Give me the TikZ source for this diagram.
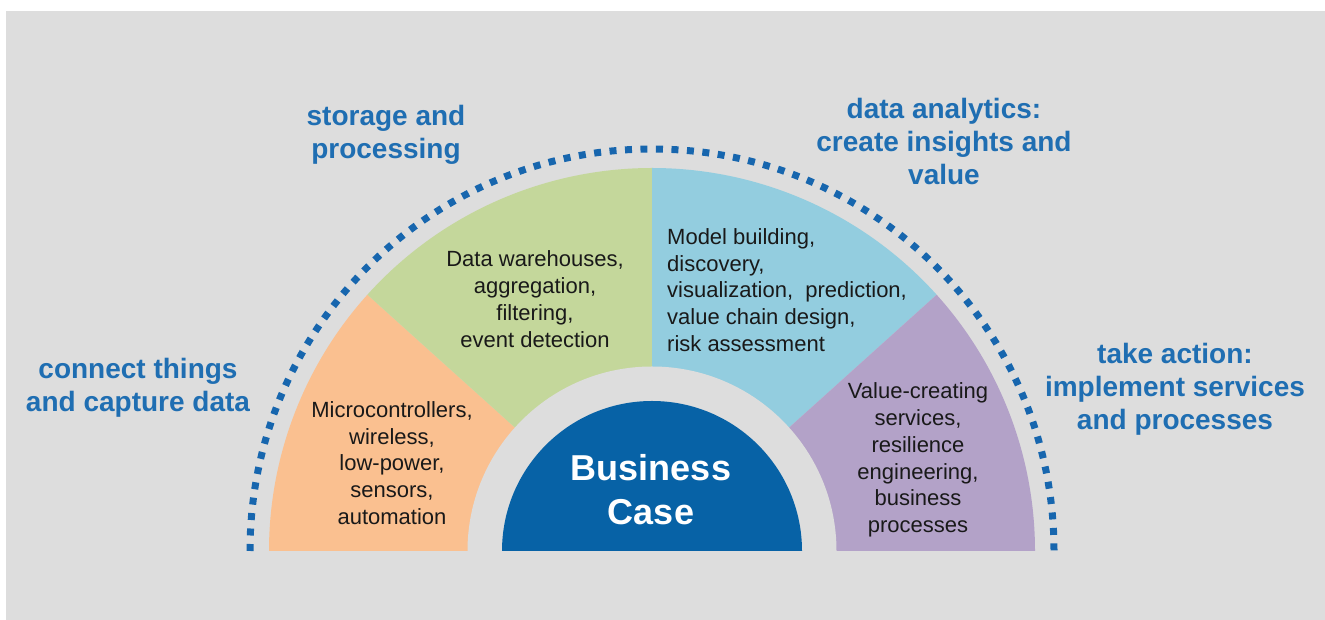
\documentclass[tikz,border=0pt]{standalone}
\usepackage{fontspec}
\setmainfont{Liberation Sans}
\definecolor{bggray}{HTML}{DDDDDD}
\definecolor{segorange}{HTML}{FAC090}
\definecolor{seggreen}{HTML}{C4D79B}
\definecolor{segblue}{HTML}{93CDDF}
\definecolor{segpurple}{HTML}{B3A2C8}
\definecolor{coreblue}{HTML}{0762A6}
\definecolor{labelblue}{HTML}{1F6EB2}
\definecolor{dotblue}{HTML}{1766AE}
\begin{document}
\begin{tikzpicture}[x=1pt,y=1pt,
  phase/.style={text=labelblue, font=\fontsize{28}{33}\selectfont\bfseries, align=center, inner sep=0pt},
  segtext/.style={text=black!90, font=\fontsize{22}{26.8}\selectfont, align=center, inner sep=0pt},
  coretext/.style={text=white, font=\fontsize{36}{44}\selectfont\bfseries, align=center, inner sep=0pt},
  dotring/.style={draw=dotblue, line width=7pt, dash pattern=on 7pt off 8.5pt}]
\useasboundingbox (0,0) rectangle (1325,620);
\fill[white] (0,0) rectangle (1325,620);
\fill[bggray] (6,0) rectangle (1325,609);

\coordinate (C) at (652,69);

% outer segments of the half disc
\fill[segorange] (C) -- ++(180:383) arc (180:138:383) -- cycle;
\fill[seggreen]  (C) -- ++(138:383) arc (138:90:383) -- cycle;
\fill[segblue]   (C) -- ++(90:383) arc (90:42:383) -- cycle;
\fill[segpurple] (C) -- ++(42:383) arc (42:0:383) -- cycle;

% gray ring and the central half disc
\fill[bggray] (C) ++(180:184.5) arc (180:0:184.5) -- cycle;
\fill[coreblue] (C) ++(180:150) arc (180:0:150) -- cycle;

% dotted outer arc
\draw[dotring] (C) ++(180:402) arc (180:0:402);

% phase labels
\node[phase] (connect) at (138,232) {connect things\\and capture data};
\node[phase] (storage) at (386,485) {storage and\\processing};
\node[phase] (analytics) at (944,478) {data analytics:\\create insights and\\value};
\node[phase] (action) at (1175,231) {take action:\\implement services\\and processes};

% segment contents
\node[segtext] (things) at (392,157) {Microcontrollers,\\wireless,\\low-power,\\sensors,\\automation};
\node[segtext] (storagetext) at (535,321) {Data warehouses,\\aggregation,\\filtering,\\event detection};
\node[segtext, align=left, anchor=west] (analyticstext) at (667,330) {Model building,\\discovery,\\visualization,\ \ prediction,\\value chain design,\\risk assessment};
\node[segtext] (actiontext) at (918,160) {Value-creating\\services,\\resilience\\engineering,\\business\\processes};

% centre
\node[coretext] (business) at (651,130) {Business\\Case};
\end{tikzpicture}
\end{document}
